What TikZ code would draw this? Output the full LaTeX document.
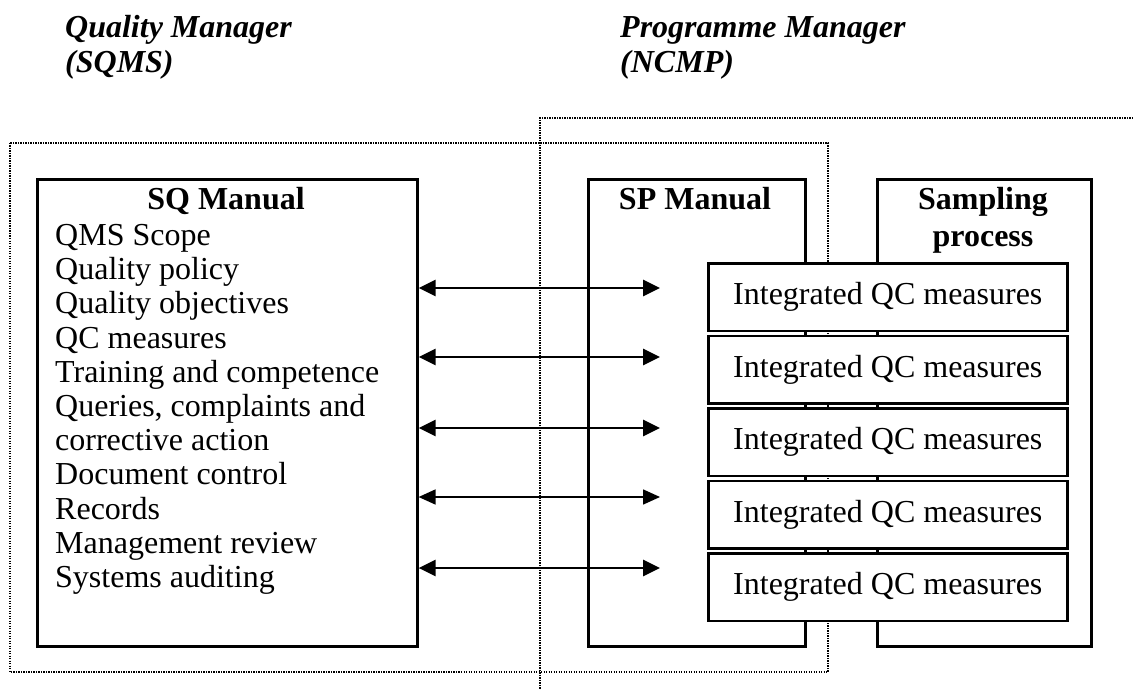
\documentclass[tikz,border=0pt]{standalone}
\usepackage{fontspec}
\setmainfont{Liberation Serif}
\usetikzlibrary{arrows.meta}
\begin{document}
\begin{tikzpicture}[x=1pt,y=-1pt,
  txt/.style={inner sep=0pt,font=\fontsize{32}{34.2}\selectfont},
  head/.style={inner sep=0pt,font=\fontsize{32}{34.2}\selectfont\bfseries},
  title/.style={inner sep=0pt,anchor=base west,font=\fontsize{32}{34.2}\selectfont\bfseries\itshape},
  box/.style={draw,line width=2.6pt,inner sep=0pt,anchor=north west},
  qc/.style={draw,line width=2.6pt,fill=white,inner sep=0pt,anchor=north west,
    minimum width=359pt,minimum height=67.5pt,font=\fontsize{32}{34.2}\selectfont},
  dotbox/.style={line width=1.4pt,dash pattern=on 1.3pt off 1.2pt},
  link/.style={line width=2.8pt,{Triangle[length=17pt,width=16pt]}-{Triangle[length=17pt,width=16pt]}},
  thinlink/.style={line width=1.6pt,{Triangle[length=17pt,width=15pt]}-{Triangle[length=17pt,width=15pt]}}]
\useasboundingbox (0,0) rectangle (1133,690);
% titles
\node[title] (t1a) at (65,38) {Quality Manager};
\node[title] (t1b) at (65,73) {(SQMS)};
\node[title] (t2a) at (620,38) {Programme Manager};
\node[title] (t2b) at (620,73) {(NCMP)};
% dotted groupings
\draw[dotbox] (10,143) rectangle (828,672);
\draw[dotbox] (1133,118) -- (540,118) -- (540,690);
% main boxes
\node[box,minimum width=380pt,minimum height=467pt] (sq) at (36,178) {};
\node[box,minimum width=217pt,minimum height=467pt] (sp) at (587,178) {};
\node[box,minimum width=214pt,minimum height=467pt] (samp) at (876,178) {};
\node[head,anchor=base] (sqh) at (226,209) {SQ Manual};
\node[head,anchor=base] (sph) at (695,209) {SP Manual};
\node[head,anchor=base] (samph1) at (983,209) {Sampling};
\node[head,anchor=base] (samph2) at (983,246) {process};
\foreach \t [count=\i from 0] in {QMS Scope,Quality policy,Quality objectives,QC measures,
  Training and competence,{Queries, complaints and},corrective action,Document control,
  Records,Management review,Systems auditing}
  \node[txt,anchor=base west] (l\i) at (55,245.5+34.2*\i) {\t};
% arrows
\coordinate (a1) at (660,288);
\coordinate (a2) at (660,357);
\coordinate (a3) at (660,428);
\coordinate (a4) at (660,497);
\coordinate (a5) at (660,568);
\draw[link] (sq.east |- a1) -- (a1);
\draw[link] (sq.east |- a2) -- (a2);
\draw[link] (sq.east |- a3) -- (a3);
\draw[thinlink] (sq.east |- a4) -- (a4);
\draw[link] (sq.east |- a5) -- (a5);
% QC boxes
\node[qc] (q1) at (707,262) {Integrated QC measures};
\node[qc] (q2) at (707,334.5) {Integrated QC measures};
\node[qc] (q3) at (707,407) {Integrated QC measures};
\node[qc] (q4) at (707,479.5) {Integrated QC measures};
\node[qc] (q5) at (707,552) {Integrated QC measures};
\end{tikzpicture}
\end{document}
